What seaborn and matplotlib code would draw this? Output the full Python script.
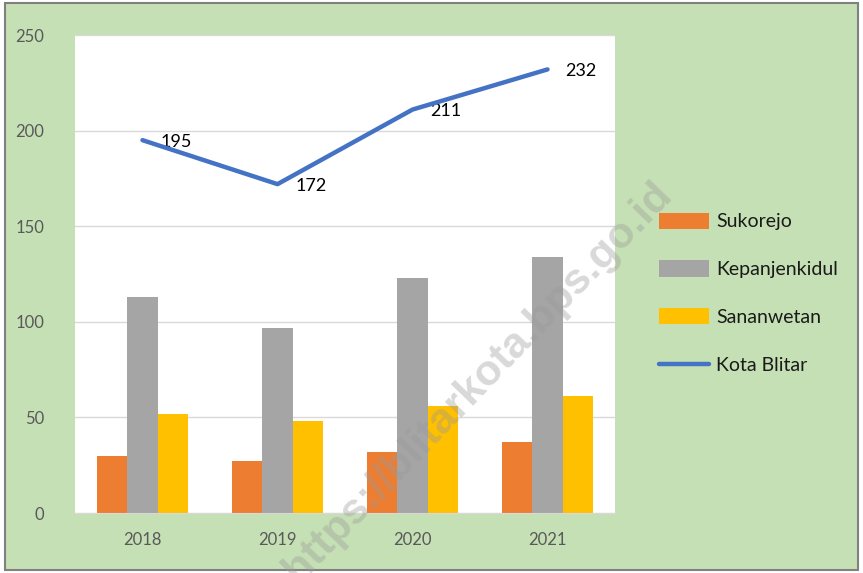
import numpy as np
import pandas as pd
import matplotlib
matplotlib.use("Agg")
import matplotlib.pyplot as plt
import seaborn as sns
from matplotlib.patches import Patch, Rectangle
from matplotlib.lines import Line2D

years = ["2018", "2019", "2020", "2021"]
sukorejo = [30, 27, 32, 37]
kepanjenkidul = [113, 97, 123, 134]
sananwetan = [52, 48, 56, 61]
kota_blitar = [195, 172, 211, 232]

series_names = ["Sukorejo", "Kepanjenkidul", "Sananwetan"]
colors = ["#ED7D31", "#A5A5A5", "#FFC000"]
line_color = "#4472C4"
bg = "#C5E0B4"

sns.set_style("white")
plt.rcParams["font.family"] = ["Lato", "DejaVu Sans"]

df = pd.DataFrame({
    "year": years * 3,
    "value": sukorejo + kepanjenkidul + sananwetan,
    "kecamatan": [n for n in series_names for _ in years],
})

fig = plt.figure(figsize=(8.63, 5.73), dpi=100)
fig.patch.set_facecolor("white")
fig.add_artist(Rectangle((5 / 863, 3 / 573), 853 / 863, 567 / 573, transform=fig.transFigure,
                         facecolor=bg, edgecolor="#808080", linewidth=1.5, zorder=-10))
ax = fig.add_axes([75 / 863, 1 - 513 / 573, 540 / 863, 478 / 573])
ax.set_facecolor("white")

sns.barplot(data=df, x="year", y="value", hue="kecamatan", palette=colors,
            width=0.67, gap=0, ax=ax, legend=False, saturation=1, linewidth=0)

xs = np.arange(len(years))
sns.lineplot(x=xs, y=kota_blitar, color=line_color, linewidth=3.2, ax=ax, zorder=5)
for x, v in zip(xs, kota_blitar):
    ax.annotate(str(v), (x, v), xytext=(13, -1), textcoords="offset points",
                ha="left", va="center", fontsize=13, color="black")

ax.set_ylim(0, 250)
ax.set_xlim(-0.5, 3.5)
ax.set_yticks(range(0, 251, 50))
ax.yaxis.grid(True, color="#D9D9D9", linewidth=1)
ax.set_axisbelow(True)
ax.set_xlabel("")
ax.set_ylabel("")
for s in ["top", "right", "left"]:
    ax.spines[s].set_visible(False)
ax.spines["bottom"].set_color("#D9D9D9")
ax.tick_params(axis="both", length=0, labelsize=12, colors="#595959")
ax.tick_params(axis="y", pad=22)
ax.tick_params(axis="x", pad=14)

handles = [Patch(facecolor=c, edgecolor="none") for c in colors]
handles.append(Line2D([0], [0], color=line_color, linewidth=3.2))
fig.legend(handles, series_names + ["Kota Blitar"], loc="upper left",
           bbox_to_anchor=(641 / 863, 1 - 195 / 573), frameon=False, fontsize=14,
           labelspacing=1.55, handlelength=2.6, handleheight=0.9, handletextpad=0.35,
           labelcolor="#1a1a1a")

fig.text(478 / 863, 1 - 382 / 573, "https://blitarkota.bps.go.id", rotation=46,
         ha="center", va="center", fontsize=31, fontweight="bold",
         color="#9A9A9A", alpha=0.38, family=["Liberation Sans", "DejaVu Sans"], zorder=10)

fig.savefig("out.png", dpi=100, facecolor=fig.get_facecolor())
